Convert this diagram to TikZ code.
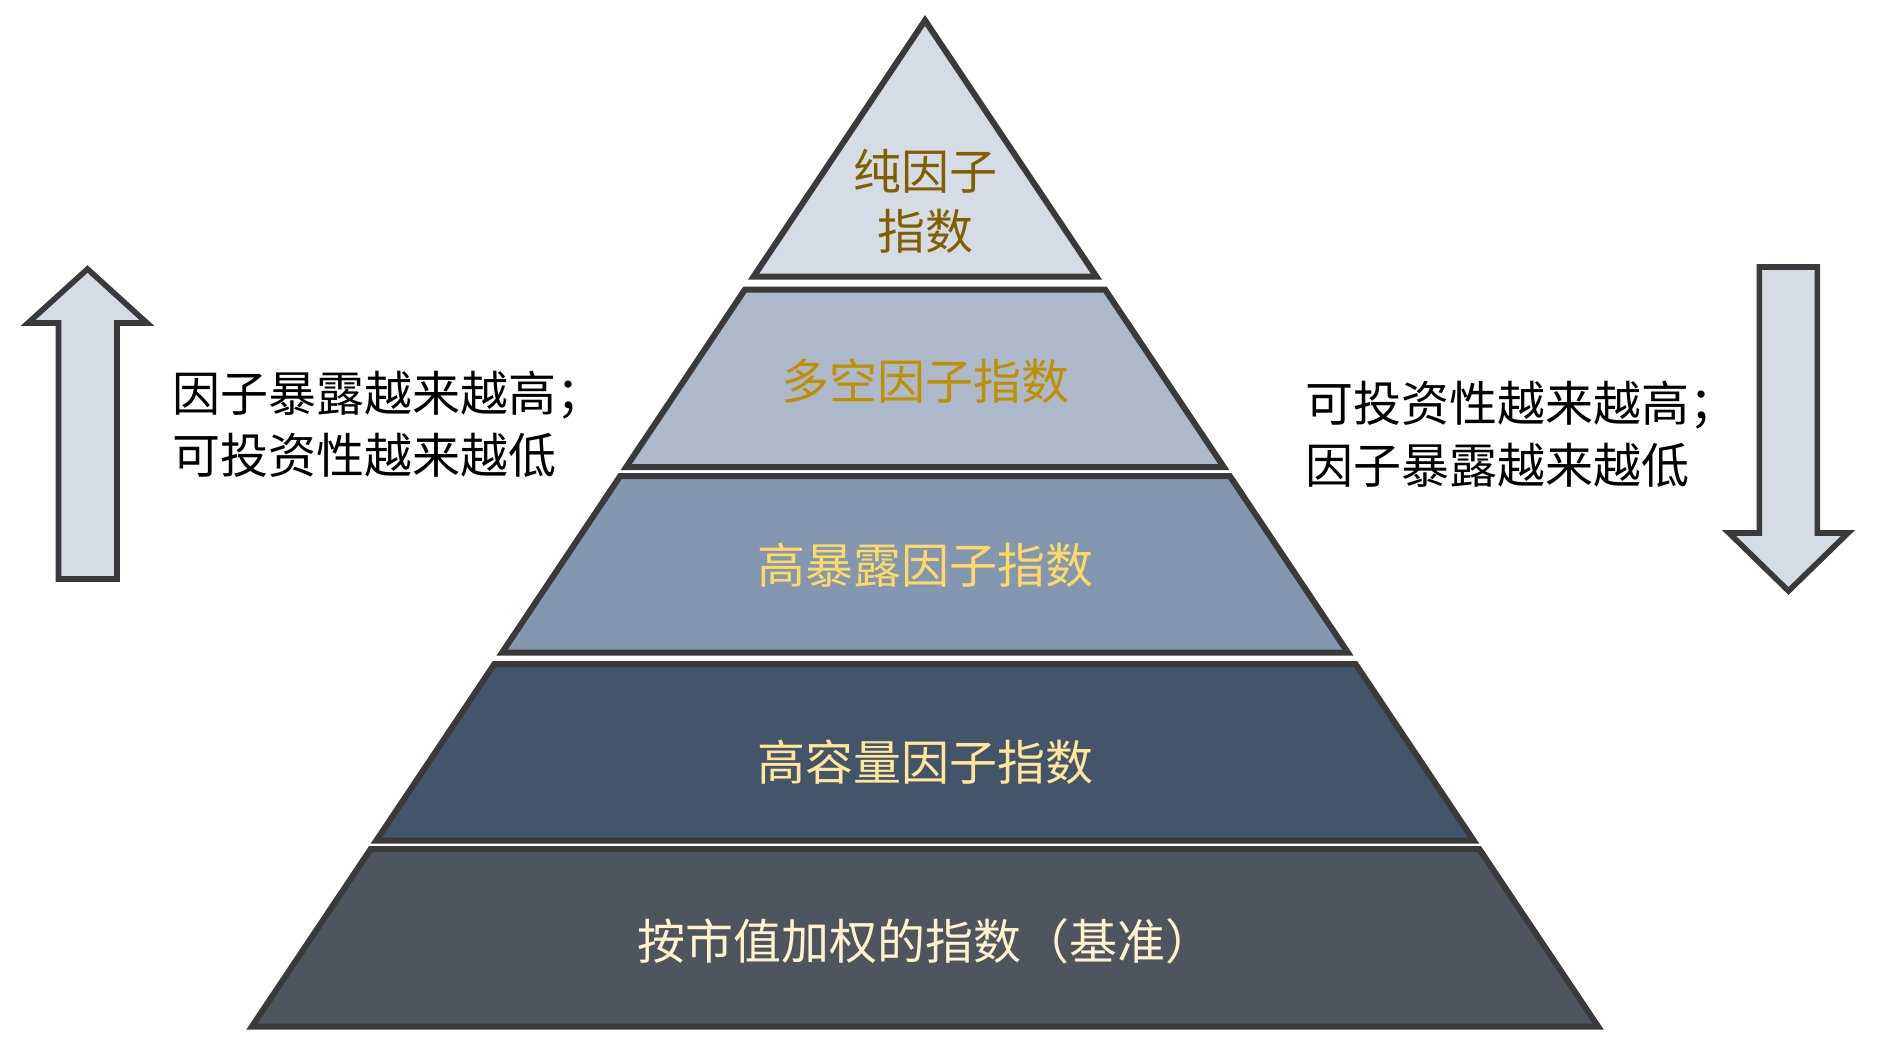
\documentclass[tikz,border=0pt]{standalone}
\usepackage{fontspec}
\newfontfamily\cjk{Noto Sans CJK SC}
\definecolor{edge}{HTML}{3A3A3A}
\definecolor{fillA}{HTML}{D6DCE5}
\definecolor{fillB}{HTML}{ADB9CA}
\definecolor{fillC}{HTML}{8497B0}
\definecolor{fillD}{HTML}{44546A}
\definecolor{fillE}{HTML}{4E555F}
\definecolor{txtA}{HTML}{7F6000}
\definecolor{txtB}{HTML}{BF9000}
\definecolor{txtC}{HTML}{FFD966}
\definecolor{txtD}{HTML}{FFE699}
\definecolor{txtE}{HTML}{FFF2CC}
\tikzset{
  layer/.style={draw=edge, line width=3pt, line join=miter},
  bigarrow/.style={draw=edge, fill=fillA, line width=2.8pt, line join=miter},
  label/.style={inner sep=0pt, font=\cjk\fontsize{24}{30}\selectfont, align=center},
  sidetext/.style={inner sep=0pt, font=\cjk\fontsize{24}{31}\selectfont, align=left, text=black}
}
\begin{document}
\begin{tikzpicture}[x=0.5pt,y=-0.5pt]
\useasboundingbox[fill=white] (0,0) rectangle (1881,1051);
% pyramid layers
\draw[layer, fill=fillA] (925,20.4) -- (1096.5,276.7) -- (753.5,276.7) -- cycle;
\draw[layer, fill=fillB] (744.8,289.7) -- (1105.2,289.7) -- (1223.8,467) -- (626.2,467) -- cycle;
\draw[layer, fill=fillC] (620.2,476) -- (1229.8,476) -- (1348,652.7) -- (502,652.7) -- cycle;
\draw[layer, fill=fillD] (494.4,664) -- (1355.6,664) -- (1473.8,840.7) -- (376.2,840.7) -- cycle;
\draw[layer, fill=fillE] (370.7,849) -- (1479.3,849) -- (1598.2,1026.7) -- (251.8,1026.7) -- cycle;
% layer labels
\node[label, text=txtA] (l1) at (925,201.5) {纯因子\\指数};
\node[label, text=txtB] (l2) at (925,381) {多空因子指数};
\node[label, text=txtC] (l3) at (925,565) {高暴露因子指数};
\node[label, text=txtD] (l4) at (925,762) {高容量因子指数};
\node[label, text=txtE] (l5) at (925,941) {按市值加权的指数（基准）};
% side arrows
\draw[bigarrow] (87.5,269) -- (147,323) -- (117,323) -- (117,579) -- (58.5,579) -- (58.5,323) -- (28,323) -- cycle;
\draw[bigarrow] (1759.4,267) -- (1817.4,267) -- (1817.4,533) -- (1848,533) -- (1788.5,591) -- (1729,533) -- (1759.4,533) -- cycle;
% side texts
\node[sidetext, anchor=west] (lt) at (172,424) {因子暴露越来越高；\\可投资性越来越低};
\node[sidetext, anchor=west] (rt) at (1305,434.5) {可投资性越来越高；\\因子暴露越来越低};
\end{tikzpicture}
\end{document}
